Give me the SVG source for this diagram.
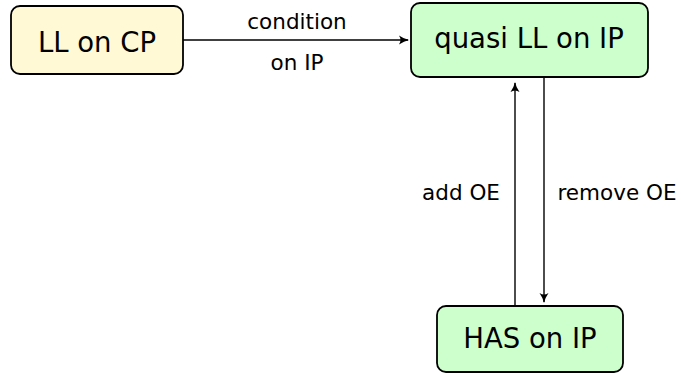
<svg xmlns="http://www.w3.org/2000/svg" width="681" height="373" viewBox="0 0 681 373">
<defs>
<style>
.box{stroke:#000;stroke-width:1.8}
.yellow{fill:#fff9d6}
.green{fill:#ccffcc}
.nt{font-family:"DejaVu Sans",sans-serif;font-size:27.5px;fill:#000;text-anchor:middle}
.et{font-family:"DejaVu Sans",sans-serif;font-size:21.5px;fill:#000;text-anchor:middle}
.edge{stroke:#000;stroke-width:1.4;fill:none;marker-end:url(#ah)}
</style>
<marker id="ah" viewBox="0 0 10 10" refX="9" refY="5" markerWidth="10" markerHeight="10" markerUnits="userSpaceOnUse" orient="auto">
<path d="M0,0.5 Q5,4 10,5 Q5,6 0,9.5 Q3,5 0,0.5 Z" fill="#000"/>
</marker>
</defs>
<g id="n-llcp">
<rect class="box yellow" x="11" y="6" width="172" height="68" rx="9"/>
<text class="nt" x="97" y="52">LL on CP</text>
</g>
<g id="n-quasi">
<rect class="box green" x="411" y="3" width="237" height="74" rx="9"/>
<text class="nt" x="529" y="48">quasi LL on IP</text>
</g>
<g id="n-has">
<rect class="box green" x="437" y="306" width="186" height="66" rx="9"/>
<text class="nt" x="530" y="348">HAS on IP</text>
</g>
<g id="connectors">
<line class="edge" x1="183" y1="40" x2="408" y2="40"/>
<line class="edge" x1="515" y1="306" x2="515" y2="83"/>
<line class="edge" x1="544" y1="77" x2="544" y2="302"/>
<text class="et" x="297" y="29">condition</text>
<text class="et" x="297" y="70">on IP</text>
<text class="et" x="461" y="200">add OE</text>
<text class="et" x="617" y="200">remove OE</text>
</g>
</svg>
